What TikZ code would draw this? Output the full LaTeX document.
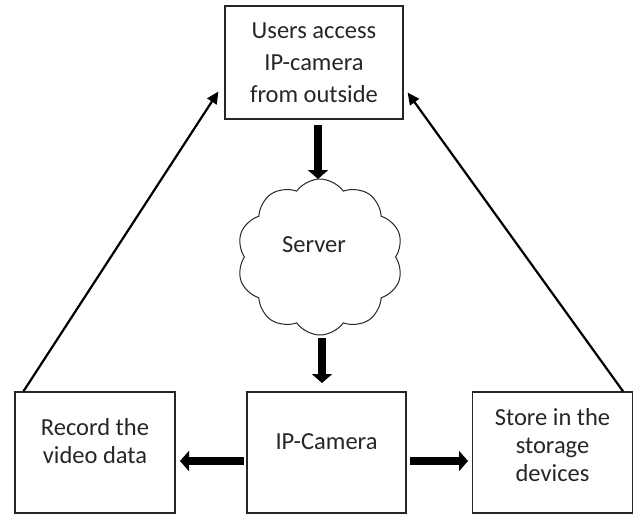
\documentclass[tikz,border=0pt]{standalone}
\usepackage{fontspec}
\setmainfont{Carlito}
\usetikzlibrary{arrows.meta,shapes.symbols,calc}
\begin{document}
\begin{tikzpicture}[x=1pt,y=-1pt,
  boxst/.style={draw=black!85,line width=1.2pt,minimum width=#1,minimum height=121pt,inner sep=0pt},
  txt/.style={text=black!85,font=\fontsize{24.5}{28}\selectfont,align=center,inner sep=0pt},
  fat/.style={line width=8pt,-{Triangle[width=20pt,length=9pt]}},
  thin/.style={line width=2.2pt,-{Triangle[width=11pt,length=12pt]}}]
\useasboundingbox (0,0) rectangle (638,515);
\node[boxst=178pt,minimum height=113pt] (top) at (314,62.5) {};
\node[txt,font=\fontsize{24.5}{32}\selectfont] (toptxt) at (314,63) {Users access\\IP-camera\\from outside};
\node[cloud,draw=black!85,line width=1pt,cloud puffs=10,cloud puff arc=110,aspect=1.05,minimum width=166pt,minimum height=156pt,inner sep=0pt] (cloud) at (320,257) {};
\node[txt] (cloudtxt) at (314,245) {Server};
\node[boxst=160pt] (left) at (95,452.5) {};
\node[txt] (lefttxt) at (95,441.5) {Record the\\video data};
\node[boxst=159pt] (mid) at (326.5,452.5) {};
\node[txt] (midtxt) at (326.5,442) {IP-Camera};
\node[boxst=160pt] (right) at (552.5,452.5) {};
\node[txt] (righttxt) at (552.5,445) {Store in the\\storage\\devices};
\coordinate (a1s) at (318,125);
\coordinate (a1e) at (318,179);
\draw[fat] (a1s) -- (a1e);
\coordinate (a2s) at (322,338);
\coordinate (a2e) at (322,383);
\draw[fat] (a2s) -- (a2e);
\coordinate (a3s) at (244,461);
\coordinate (a3e) at (180,461);
\draw[fat] (a3s) -- (a3e);
\coordinate (a4s) at (410,461);
\coordinate (a4e) at (468,461);
\draw[fat] (a4s) -- (a4e);
\draw[thin] ($(left.north west)+(9,0)$) -- ($(top.west)+(-6,29)$);
\draw[thin] ($(right.north east)+(-10,0)$) -- ($(top.east)+(4,30)$);
\end{tikzpicture}
\end{document}
